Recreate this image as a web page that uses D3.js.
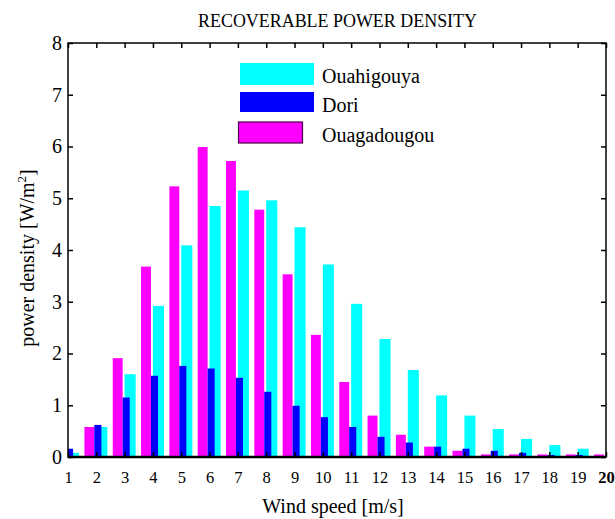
<!DOCTYPE html>
<html><head><meta charset="utf-8">
<script src="https://cdn.jsdelivr.net/npm/d3@7"></script>
<style>body{margin:0;background:#fff}svg{display:block}svg text{font-family:"Liberation Serif",serif !important;fill:#000}</style>
</head><body>
<svg id="c" width="615" height="519"></svg>
<script>
const windSpeed = [1,2,3,4,5,6,7,8,9,10,11,12,13,14,15,16,17,18,19,20];
const ouahigouya = [0.08,0.58,1.60,2.92,4.09,4.85,5.15,4.96,4.44,3.72,2.96,2.28,1.68,1.19,0.80,0.54,0.35,0.23,0.16,0.10];
const dori = [0.16,0.62,1.15,1.57,1.76,1.71,1.53,1.26,0.99,0.77,0.58,0.39,0.28,0.20,0.16,0.12,0.08,0.04,0.04,0.02];
const ouagadougou = [0.02,0.58,1.91,3.68,5.23,5.99,5.72,4.78,3.53,2.36,1.45,0.80,0.43,0.20,0.12,0.05,0.05,0.05,0.05,0.05];
const yTicks = [0,1,2,3,4,5,6,7,8];
const seriesNames = ["Ouahigouya","Dori","Ouagadougou"];
const seriesColors = ["#00ffff","#0000ff","#ff00ff"];

const FONT = '"Liberation Serif", serif';
const svg = d3.select("#c");
const L=68,R=606,T=43,B=457;
const x = d3.scaleLinear().domain([1,20]).range([L,R]);
const y = d3.scaleLinear().domain([0,8]).range([B,T]);

svg.append("defs").append("clipPath").attr("id","pc").append("rect")
  .attr("x",L).attr("y",T).attr("width",R-L).attr("height",B-T);
const g = svg.append("g").attr("clip-path","url(#pc)");

function bars(vals, off0, off1, color){
  g.append("g").selectAll("rect").data(vals).join("rect")
    .attr("x",(d,i)=>x(windSpeed[i]+off0))
    .attr("width",(d,i)=>x(windSpeed[i]+off1)-x(windSpeed[i]+off0))
    .attr("y",d=>y(d)).attr("height",d=>y(0)-y(d))
    .attr("fill",color);
}
bars(ouahigouya,0.0,0.39,seriesColors[0]);
bars(ouagadougou,-0.42,-0.07,seriesColors[2]);
bars(dori,-0.07,0.18,seriesColors[1]);

// axes
const ax = svg.append("g");
ax.append("g").attr("transform",`translate(0,${B})`)
  .call(d3.axisBottom(x).tickValues(windSpeed).tickSize(-5).tickPadding(14).tickFormat(d3.format("d")))
  .call(s=>{s.select(".domain").remove();
    s.attr("font-family",FONT);
    s.selectAll("text").style("font-family",FONT).style("font-size","16.5px")
     .style("font-weight",d=>d===20?"bold":"normal");});
ax.append("g").attr("transform",`translate(0,${T})`)
  .call(d3.axisTop(x).tickValues(windSpeed).tickSize(-5).tickFormat(""))
  .call(s=>s.select(".domain").remove());
ax.append("g").attr("transform",`translate(${L},0)`)
  .call(d3.axisLeft(y).tickValues(yTicks).tickSize(-5).tickPadding(6).tickFormat(d3.format("d")))
  .call(s=>{s.select(".domain").remove();
    s.attr("font-family",FONT);
    s.selectAll("text").style("font-family",FONT).style("font-size","20px");});
ax.append("g").attr("transform",`translate(${R},0)`)
  .call(d3.axisRight(y).tickValues(yTicks).tickSize(-5).tickFormat(""))
  .call(s=>s.select(".domain").remove());
ax.selectAll(".tick line").attr("stroke","#000").attr("stroke-width",1.5);
svg.append("rect").attr("x",L).attr("y",T).attr("width",R-L).attr("height",B-T)
  .attr("fill","none").attr("stroke","#000").attr("stroke-width",1.5);
svg.append("line").attr("x1",L).attr("x2",R).attr("y1",B).attr("y2",B).attr("stroke","#000").attr("stroke-width",2.5);

// titles
svg.append("text").attr("x",337.5).attr("y",27).attr("text-anchor","middle")
  .style("font-family",FONT).style("font-size","19px")
  .attr("textLength",279).attr("lengthAdjust","spacingAndGlyphs")
  .text("RECOVERABLE POWER DENSITY");
svg.append("text").attr("x",333).attr("y",513).attr("text-anchor","middle")
  .style("font-family",FONT).style("font-size","20px").text("Wind speed [m/s]");
const yl = svg.append("text").attr("transform","translate(34,258) rotate(-90)").attr("text-anchor","middle")
  .style("font-family",FONT).style("font-size","20px");
yl.append("tspan").text("power density [W/m");
yl.append("tspan").style("font-size","13px").attr("dy",-8).text("2");
yl.append("tspan").attr("dy",8).text("]");

// legend
const leg = svg.append("g");
const legY = [63,92,122];
const legH = [22,20,21];
const legW = [74,74,64];
const legBase = [83,111.5,141.5];
seriesNames.forEach((n,i)=>{
  leg.append("rect").attr("x",i===2?238.5:240).attr("y",legY[i]).attr("width",legW[i]).attr("height",legH[i])
    .attr("fill",seriesColors[i]).attr("stroke",i===2?"#4a004a":"none").attr("stroke-width",1.2);
  leg.append("text").attr("x",322).attr("y",legBase[i])
    .style("font-family",FONT).style("font-size","20px").text(n);
});
</script>
</body></html>
